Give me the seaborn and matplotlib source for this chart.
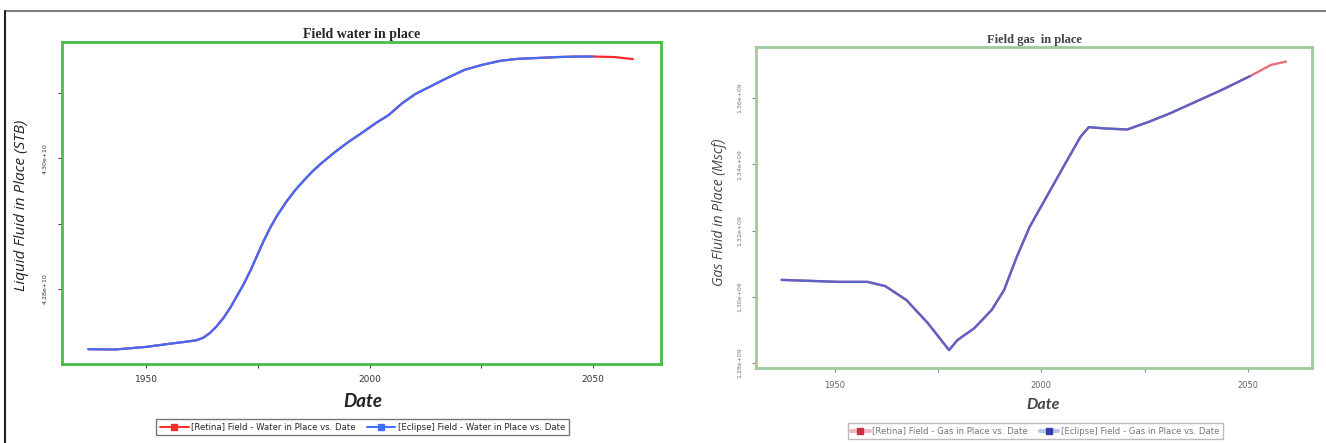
import numpy as np
import pandas as pd
import matplotlib
matplotlib.use("Agg")
import matplotlib.pyplot as plt
from matplotlib.lines import Line2D
from matplotlib.ticker import FixedLocator, FixedFormatter
import seaborn as sns

# ---- Field water in place (STB, in units of 1e10) ----
water_years = [1937, 1943, 1950, 1955, 1959, 1961.3, 1962.8, 1964.3, 1965.8,
               1967.3, 1968.8, 1970.3, 1971.8, 1973.3, 1974.8, 1976.3, 1977.8,
               1979.3, 1981.3, 1983.3, 1985.3, 1987.3, 1989.3, 1992.3, 1995.3,
               1998.3, 2001.3, 2004.3, 2007.3, 2010.3, 2013.3, 2017.3, 2021.3,
               2025.3, 2029.3, 2033.3, 2037.3, 2042, 2046, 2050, 2055, 2059]
water_retina = [4.27077, 4.27072, 4.27112, 4.27158, 4.27192, 4.27215, 4.27254,
                4.27328, 4.27431, 4.27558, 4.27712, 4.27892, 4.28072, 4.28277,
                4.28508, 4.28738, 4.28943, 4.29123, 4.29328, 4.29508, 4.29662,
                4.29805, 4.29928, 4.30097, 4.30251, 4.30389, 4.30534, 4.30662,
                4.30842, 4.30985, 4.31088, 4.31226, 4.31354, 4.31431, 4.31492,
                4.31523, 4.31534, 4.31549, 4.31557, 4.31558, 4.31549, 4.31518]
water_eclipse_years = water_years[:40]
water_eclipse = [4.27077, 4.27072, 4.27112, 4.27158, 4.27192, 4.27215, 4.27254,
                 4.27328, 4.27431, 4.27558, 4.27712, 4.27892, 4.28072, 4.28277,
                 4.28508, 4.28738, 4.28943, 4.29123, 4.29328, 4.29508, 4.29662,
                 4.29805, 4.29928, 4.30097, 4.30251, 4.30389, 4.30534, 4.30662,
                 4.30842, 4.30985, 4.31088, 4.31226, 4.31354, 4.31431, 4.31492,
                 4.31523, 4.31534, 4.31549, 4.31557, 4.31558]
water_ticks = [4.28, 4.29, 4.30, 4.31]
water_tick_labels = ["4.28e+10", "", "4.30e+10", ""]

# ---- Field gas in place (Mscf, in units of 1e9) ----
gas_years = [1937.2, 1944, 1951, 1958, 1962.3, 1967.4, 1972.6, 1977.7, 1979.7,
             1983.8, 1988, 1991, 1994.1, 1997.2, 2001.3, 2005.4, 2009.5, 2011.5,
             2015.6, 2020.8, 2026, 2031.2, 2037.4, 2043.6, 2050.5, 2055.6, 2059.2]
gas_retina = [1.3051, 1.3048, 1.3045, 1.3045, 1.3032, 1.2990, 1.2920, 1.2839,
              1.2869, 1.2905, 1.2960, 1.3020, 1.3121, 1.3211, 1.3302, 1.3393,
              1.3483, 1.3512, 1.3508, 1.3505, 1.3528, 1.3554, 1.3589, 1.3624,
              1.3666, 1.3700, 1.3710]
gas_eclipse_years = gas_years[:25]
gas_eclipse = [1.3051, 1.3048, 1.3045, 1.3045, 1.3032, 1.2990, 1.2920, 1.2839,
               1.2869, 1.2905, 1.2960, 1.3020, 1.3121, 1.3211, 1.3302, 1.3393,
               1.3483, 1.3512, 1.3508, 1.3505, 1.3528, 1.3554, 1.3589, 1.3624,
               1.3666]
gas_ticks = [1.28, 1.30, 1.32, 1.34, 1.36]
gas_tick_labels = ["1.28e+09", "1.30e+09", "1.32e+09", "1.34e+09", "1.36e+09"]

year_ticks = [1950, 2000, 2050]
year_minor = [1975, 2025]

sns.set_style("white")
plt.rcParams["font.family"] = ["DejaVu Sans"]

W, H = 1326, 443
fig = plt.figure(figsize=(W / 100, H / 100), dpi=100)
fig.patch.set_facecolor("white")


def box(x0, y0, x1, y1):
    return [x0 / W, 1 - y1 / H, (x1 - x0) / W, (y1 - y0) / H]


ax1 = fig.add_axes(box(62, 42, 661, 364))
ax2 = fig.add_axes(box(756, 47, 1312, 368))

# ---- left panel ----
wr = pd.DataFrame({"Date": water_years, "WIP": np.array(water_retina) * 1e10})
we = pd.DataFrame({"Date": water_eclipse_years, "WIP": np.array(water_eclipse) * 1e10})
sns.lineplot(data=wr, x="Date", y="WIP", ax=ax1, color="#ff2a2a", lw=1.6)
sns.lineplot(data=we, x="Date", y="WIP", ax=ax1, color="#3d6cff", lw=1.6)
for ln in ax1.lines:
    ln.set_solid_joinstyle("round")
ax1.set_xlim(1931.1, 2065.3)
ax1.set_ylim(4.2685e10, 4.3178e10)
ax1.xaxis.set_major_locator(FixedLocator(year_ticks))
ax1.xaxis.set_minor_locator(FixedLocator(year_minor))
ax1.yaxis.set_major_locator(FixedLocator([v * 1e10 for v in water_ticks]))
ax1.yaxis.set_major_formatter(FixedFormatter(water_tick_labels))
ax1.tick_params(axis="both", which="both", direction="out", length=3, width=0.8,
                color="#444444", left=True, bottom=True)
ax1.tick_params(axis="x", labelsize=6.5, pad=5, labelcolor="#333333")
ax1.tick_params(axis="y", labelsize=4.5, pad=7, labelcolor="#333333", labelrotation=90)
for lab in ax1.get_yticklabels():
    lab.set_verticalalignment("center")
for sp in ax1.spines.values():
    sp.set_color("#47bd47")
    sp.set_linewidth(2.0)
ax1.set_title("Field water in place", family="Liberation Serif", weight="bold",
              fontsize=10, pad=3)
ax1.set_ylabel("Liquid Fluid in Place (STB)", family="Open Sans", style="italic",
               fontsize=11, color="#222222")
ax1.yaxis.set_label_coords(-0.067, 0.494)
ax1.yaxis.label.set_verticalalignment("center")
ax1.set_xlabel("Date", family="Lato", style="italic", weight="bold",
               fontsize=13.5, color="#222222")
ax1.xaxis.set_label_coords(0.5025, -0.118)
ax1.xaxis.label.set_verticalalignment("center")

h1 = [Line2D([], [], color="#ff2a2a", lw=1.4, marker="s", markersize=3.8),
      Line2D([], [], color="#3d6cff", lw=1.4, marker="s", markersize=3.8)]
leg1 = fig.legend(h1, ["[Retina] Field - Water in Place vs. Date",
                       "[Eclipse] Field - Water in Place vs. Date"],
                  loc="center", bbox_to_anchor=(362.5 / W, 1 - 427 / H), ncol=2,
                  fontsize=6.1, frameon=True, fancybox=False, handlelength=3.4,
                  handletextpad=0.3, columnspacing=1.3, borderpad=0.4,
                  edgecolor="#555555")
leg1.get_frame().set_linewidth(1.0)

# ---- right panel ----
gr = pd.DataFrame({"Date": gas_years, "GIP": np.array(gas_retina) * 1e9})
ge = pd.DataFrame({"Date": gas_eclipse_years, "GIP": np.array(gas_eclipse) * 1e9})
sns.lineplot(data=gr, x="Date", y="GIP", ax=ax2, color="#e8707e", lw=1.7)
sns.lineplot(data=ge, x="Date", y="GIP", ax=ax2, color="#5b63c8", lw=1.7)
ax2.set_xlim(1931.0, 2065.5)
ax2.set_ylim(1.2785e9, 1.3754e9)
ax2.xaxis.set_major_locator(FixedLocator(year_ticks))
ax2.xaxis.set_minor_locator(FixedLocator(year_minor))
ax2.yaxis.set_major_locator(FixedLocator([v * 1e9 for v in gas_ticks]))
ax2.yaxis.set_major_formatter(FixedFormatter(gas_tick_labels))
ax2.tick_params(axis="both", which="both", direction="out", length=3, width=0.8,
                color="#888888", left=True, bottom=True)
ax2.tick_params(axis="x", labelsize=6, pad=6, labelcolor="#666666")
ax2.tick_params(axis="y", labelsize=4.5, pad=7, labelcolor="#777777", labelrotation=90)
for lab in ax2.get_yticklabels():
    lab.set_verticalalignment("center")
for sp in ax2.spines.values():
    sp.set_color("#9ccc9c")
    sp.set_linewidth(2.0)
ax2.set_title("Field gas  in place", family="Liberation Serif", weight="bold",
              fontsize=9, pad=3, color="#444444")
ax2.set_ylabel("Gas Fluid in Place (Mscf)", family="Open Sans", style="italic",
               fontsize=10, color="#444444")
ax2.yaxis.set_label_coords(-0.065, 0.486)
ax2.yaxis.label.set_verticalalignment("center")
ax2.set_xlabel("Date", family="Lato", style="italic", weight="bold",
               fontsize=11.5, color="#444444")
ax2.xaxis.set_label_coords(0.516, -0.115)
ax2.xaxis.label.set_verticalalignment("center")

h2 = [Line2D([], [], color="#f2b8c0", lw=3, marker="s", markersize=3.8,
             markerfacecolor="#c83040", markeredgecolor="#c83040"),
      Line2D([], [], color="#b8c4f0", lw=3, marker="s", markersize=3.8,
             markerfacecolor="#3040a8", markeredgecolor="#3040a8")]
leg2 = fig.legend(h2, ["[Retina] Field - Gas in Place vs. Date",
                       "[Eclipse] Field - Gas in Place vs. Date"],
                  loc="center", bbox_to_anchor=(1035 / W, 1 - 431 / H), ncol=2,
                  fontsize=6.1, frameon=True, fancybox=False, handlelength=2.2,
                  handletextpad=0.3, columnspacing=1.4, borderpad=0.4,
                  edgecolor="#aaaaaa", labelcolor="#777777")
leg2.get_frame().set_linewidth(1.0)

# ---- page frame lines ----
fig.add_artist(Line2D([5 / W, 1.0], [1 - 10.5 / H, 1 - 10.5 / H],
                      transform=fig.transFigure, color="#808080", lw=1.5))
fig.add_artist(Line2D([5 / W, 5 / W], [0.0, 1 - 10.5 / H],
                      transform=fig.transFigure, color="#222222", lw=1.5))

fig.savefig("out.png", dpi=100, facecolor="white")
